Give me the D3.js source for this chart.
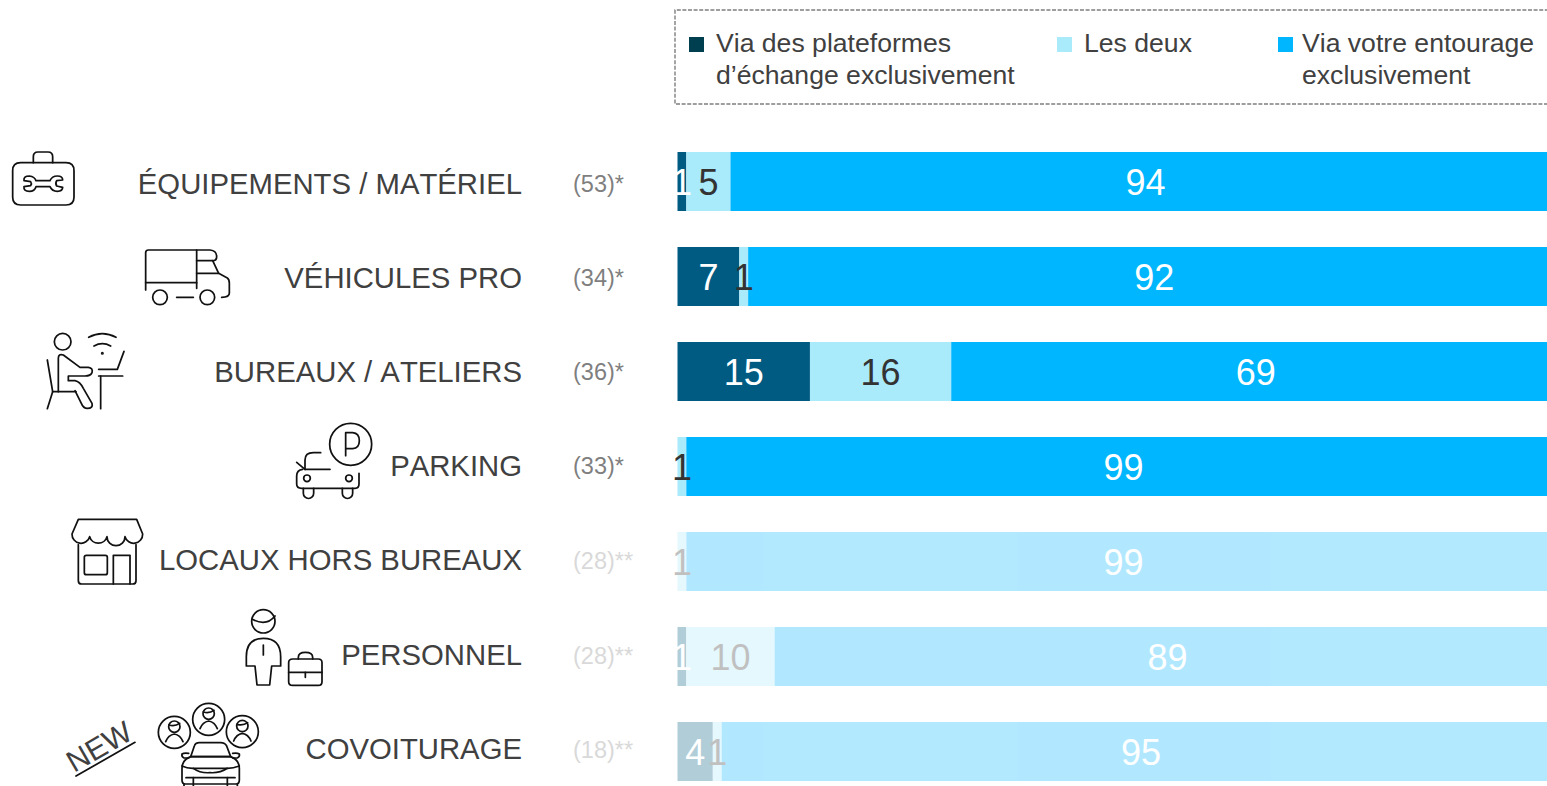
<!DOCTYPE html>
<html><head><meta charset="utf-8">
<script src="https://cdn.jsdelivr.net/npm/d3@7"></script>
<style>html,body{margin:0;padding:0;background:#fff;overflow:hidden}svg{display:block}text{font-family:"Liberation Sans",Arial,sans-serif;font-kerning:none}</style>
</head><body><svg id="c" width="1547" height="786"></svg>
<script>
const categories=["ÉQUIPEMENTS / MATÉRIEL","VÉHICULES PRO","BUREAUX / ATELIERS","PARKING","LOCAUX HORS BUREAUX","PERSONNEL","COVOITURAGE"];
const counts=["(53)*","(34)*","(36)*","(33)*","(28)**","(28)**","(18)**"];
const faded=[false,false,false,false,true,true,true];
const plateformes=[1,7,15,0,0,1,4];
const lesDeux=[5,1,16,1,1,10,1];
const entourage=[94,92,69,99,99,89,95];
const seriesKeys=["plateformes","deux","entourage"];
const seriesValues=[plateformes,lesDeux,entourage];
const seriesColors=["#005b82","#a9eafb","#00b6ff"];
const labelColors=["#ffffff","#333333","#ffffff"];
const legendColors=["#003f50","#a9eafb","#00b6ff"];
const legendLines=[["Via des plateformes","d’échange exclusivement"],["Les deux"],["Via votre entourage","exclusivement"]];

const svg=d3.select("#c");
const x=d3.scaleLinear().domain([0,100]).range([677.5,1560.5]);
const y=d3.scaleBand().domain(categories).range([134,799]).paddingInner(36/95).paddingOuter(18/95);
const yLab=d3.scaleBand().domain(categories).range([136.5,796]);

// legend
svg.append("path").attr("d","M1560,10H675V104H1560").attr("fill","none").attr("stroke","#7f7f7f").attr("stroke-width",1.4).attr("stroke-dasharray","4 1.6");
const legX=d3.scaleOrdinal().domain(seriesKeys).range([689,1057,1278]);
const leg=svg.selectAll("g.leg").data(seriesKeys).join("g").attr("class","leg").attr("transform",k=>`translate(${legX(k)},0)`);
leg.append("rect").attr("y",37).attr("width",15).attr("height",15).attr("fill",(k,i)=>legendColors[i]);
leg.each(function(k,i){
  d3.select(this).selectAll("text").data(legendLines[i]).join("text")
   .attr("x",i==2?24:27).attr("y",(d,j)=>52+32*j).attr("font-size",26.6).attr("fill","#404040").text(d=>d);
});

// rows
const rows=svg.selectAll("g.row").data(categories).join("g").attr("class","row");
rows.append("text").attr("x",522).attr("y",c=>yLab(c)+yLab.bandwidth()/2+10).attr("text-anchor","end")
  .attr("font-size",29.3).attr("fill","#404040").text(c=>c);
rows.append("text").attr("x",573).attr("y",(c,i)=>yLab(c)+yLab.bandwidth()/2+8+(i>=4?1:0)).attr("font-size",23.5)
  .attr("fill",(c,i)=>faded[i]?"#d9d9d9":"#7f7f7f").text((c,i)=>counts[i]);
const bars=rows.append("g").attr("opacity",(c,i)=>faded[i]?0.3:1);
bars.each(function(c,i){
  let acc=0;
  const segs=seriesKeys.map((k,s)=>{const v=seriesValues[s][i];const o={s,v,x0:acc,x1:acc+v};acc+=v;return o;}).filter(o=>o.v>0);
  const g=d3.select(this);
  g.selectAll("rect").data(segs).join("rect")
    .attr("x",d=>x(d.x0)).attr("width",d=>x(d.x1)-x(d.x0)).attr("y",y(c)).attr("height",y.bandwidth())
    .attr("fill",d=>seriesColors[d.s]);
  g.selectAll("text").data(segs).join("text")
    .attr("x",d=>x((d.x0+d.x1)/2)).attr("y",y(c)+y.bandwidth()/2+13.5).attr("text-anchor","middle")
    .attr("font-size",36).attr("fill",d=>labelColors[d.s]).text(d=>d.v);
});

// pictograms (traced, decorative)
function icons(oy,list){
  const g=svg.append("g").attr("transform",`translate(0,${oy}) scale(${1/3})`).attr("fill","none").attr("stroke","#111").attr("stroke-width",5.2).attr("stroke-linecap","round").attr("stroke-linejoin","round");
  list.forEach(d=>{
    if(d.c) g.append("circle").attr("cx",d.c[0]).attr("cy",d.c[1]).attr("r",d.c[2]);
    else g.append("path").attr("d",d);
  });
  return g;
}
icons(140,[
 // toolbox
 "M62,68H198Q222,68 222,92V172Q222,195 198,195H62Q38,195 38,172V92Q38,68 62,68Z",
 "M100,68V50Q100,36 114,36H144Q158,36 158,50V68",
 "M72,122Q70,108 88,108Q104,110 108,122H150Q156,108 172,108Q188,108 188,120L170,122Q165,130 170,138L188,142Q188,154 172,154Q156,154 150,140H108Q104,154 88,154Q70,154 72,140L92,137Q96,130 92,125Z",
 // truck
 "M437,450V338Q437,330 445,330H630Q650,332 650,350Q650,362 638,362H590",
 "M590,330V445","M437,428H590","M590,400H656","M638,362L656,400L682,414Q688,418 688,430V460Q688,472 665,472",
 {c:[480,472,22]},{c:[622,472,22]},"M530,472H580",
 // desk worker
 {c:[188,605,25]},
 "M266,592Q307,570 348,592","M282,618Q307,604 332,618",{c:[307,640,2]},
 "M296,688H352L372,634","M296,708H368","M302,708V806",
 "M142,660L158,755L142,806","M158,755H228",
 "M175,755V655Q175,640 190,645L240,682H265Q280,684 276,698Q272,708 255,708H205V722H225Q240,725 250,745L276,790Q280,805 262,805Q250,805 244,790L225,752",
]);
icons(410,[
 // parking
 {c:[1052,103,63]},"M1037,137V68H1058Q1078,70 1078,92Q1078,114 1058,116H1037",
 "M915,178V150Q915,128 940,128H962","M890,157L915,178","M915,178H990",
 "M1077,190V222Q1077,235 1065,235H905Q890,235 890,222V198Q890,180 908,178",
 {c:[921,205,10]},{c:[1047,205,10]},
 "M910,235V250A15,15 0 0 0 941,250V235","M1027,235V250A15,15 0 0 0 1058,250V235",
 // shop
 "M235,328H410L428,372A27,27 0 0 1 375,380A27,27 0 0 1 321,380A27,27 0 0 1 269,380A27,27 0 0 1 216,372L235,328Z",
 "M235,404V512Q235,522 245,522H398Q408,522 408,512V404",
 "M259,436H316Q322,436 322,442V488Q322,494 316,494H259Q253,494 253,488V442Q253,436 259,436Z",
 "M340,522V436H390V522",
 // employee
 {c:[790,634,35]},"M757,628Q800,650 825,618",
 "M765,768H739V740Q739,685 790,685Q842,685 842,740V768H815L809,825H771Z","M790,705V735",
 "M878,747H955Q966,747 966,758V815Q966,826 955,826H878Q866,826 866,815V758Q866,747 878,747Z",
 "M895,747V742Q895,727 916,727Q938,727 938,742V747","M866,787H966","M916,787V802",
 // carpool
 {c:[523,967,48]},{c:[626,928,48]},{c:[727,965,48]},
 {c:[523,950,17]},{c:[626,911,17]},{c:[727,948,17]},
 "M507,945Q525,950 539,940","M610,906Q628,911 642,901","M711,943Q729,948 743,938",
 "M497,995Q505,975 523,972Q541,975 549,995","M600,956Q608,936 626,933Q644,936 652,956","M701,993Q709,973 727,970Q745,973 753,993",
 "M572,1040L583,1008Q586,998 598,998H662Q675,998 680,1008L692,1040",
 "M572,1040Q546,1050 546,1075V1110Q546,1122 556,1122H708Q718,1122 718,1110V1075Q718,1050 692,1040Z",
 "M572,1040H692","M546,1068Q560,1075 578,1075H682Q700,1075 718,1068","M580,1075Q600,1090 630,1088Q660,1090 682,1075",
 "M558,1103H705","M580,1103V1128","M682,1103V1128","M552,1122V1128","M712,1122V1128",
 "M566,1044H552Q544,1040 546,1032Q552,1028 566,1030","M698,1044H712Q720,1040 718,1032Q712,1028 698,1030",
 // NEW underline
 "M228,1098L405,997",
]);
svg.append("text").attr("transform","translate(74,773) rotate(-30)").attr("font-size",30).attr("fill","#404040").text("NEW");
</script></body></html>
